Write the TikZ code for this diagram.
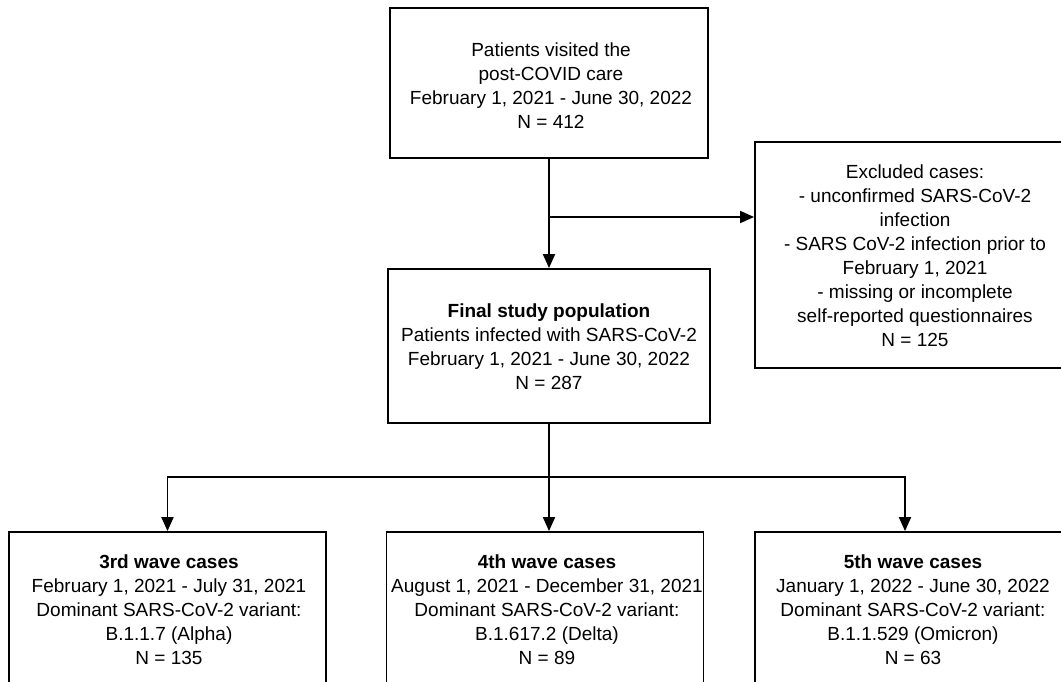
\documentclass[tikz,border=0pt]{standalone}
\usepackage{fontspec}
\setmainfont{Liberation Sans}
\usepackage{tikz}
\usetikzlibrary{arrows.meta,positioning}
\tikzset{
  flowedge/.style = {black, line width=1.8pt, ->, >={Triangle[length=14pt,width=12pt]}},
  flowline/.style = {black, line width=1.8pt},
  stagebox/.style = {draw, line width=1.8pt, inner sep=0pt},
  stagetext/.style = {align=center, inner sep=0pt, font=\fontsize{19}{24}\selectfont},
}

\begin{document}
\begin{tikzpicture}[x=1pt,y=-1pt]
    \useasboundingbox (0,0) rectangle (1061,682);
    \clip (0,0) rectangle (1061,682);

    \node [stagebox, minimum width=318pt, minimum height=150pt] (visited) at (549,83) {};
    \node [stagetext] (visitedtxt) at (551,86) {Patients visited the\\post-COVID care\\February 1, 2021 - June 30, 2022\\N = 412};

    \node [stagebox, minimum width=320pt, minimum height=226pt] (excluded) at (915,255) {};
    \node [stagetext] (excludedtxt) at (915,256) {Excluded cases:\\- unconfirmed SARS-CoV-2\\infection\\- SARS CoV-2 infection prior to\\February 1, 2021\\- missing or incomplete\\self-reported questionnaires\\N = 125};

    \node [stagebox, minimum width=322pt, minimum height=154pt] (final) at (549,346) {};
    \node [stagetext] (finaltxt) at (549,347) {\textbf{Final study population}\\Patients infected with SARS-CoV-2\\February 1, 2021 - June 30, 2022\\N = 287};

    % the three waves, cut at the bottom
    \node [stagebox, minimum width=317pt, minimum height=200pt] (wave3) at (167.5,632) {};
    \node [stagebox, minimum width=317pt, minimum height=200pt] (wave4) at (545,632) {};
    \node [stagebox, minimum width=316pt, minimum height=200pt] (wave5) at (913,632) {};
    \node [stagetext] (wave3txt) at (169,610) {\textbf{3rd wave cases}\\February 1, 2021 - July 31, 2021\\Dominant SARS-CoV-2 variant:\\B.1.1.7 (Alpha)\\N = 135};
    \node [stagetext] (wave4txt) at (547,610) {\textbf{4th wave cases}\\August 1, 2021 - December 31, 2021\\Dominant SARS-CoV-2 variant:\\B.1.617.2 (Delta)\\N = 89};
    \node [stagetext] (wave5txt) at (913,610) {\textbf{5th wave cases}\\January 1, 2022 - June 30, 2022\\Dominant SARS-CoV-2 variant:\\B.1.1.529 (Omicron)\\N = 63};

    \coordinate (split) at (549,217);
    \coordinate (fork) at (549,477);

    \path (visited) edge[flowedge] (final);
    \draw[flowedge] (split) -- (excluded.west |- split);
    \draw[flowline] (final.south) -- (fork);
    \draw[flowedge] (fork) -| (wave3.north);
    \draw[flowedge] (fork) -- (fork |- wave4.north);
    \draw[flowedge] (fork) -| ([xshift=-8pt]wave5.north);
\end{tikzpicture}
\end{document}
